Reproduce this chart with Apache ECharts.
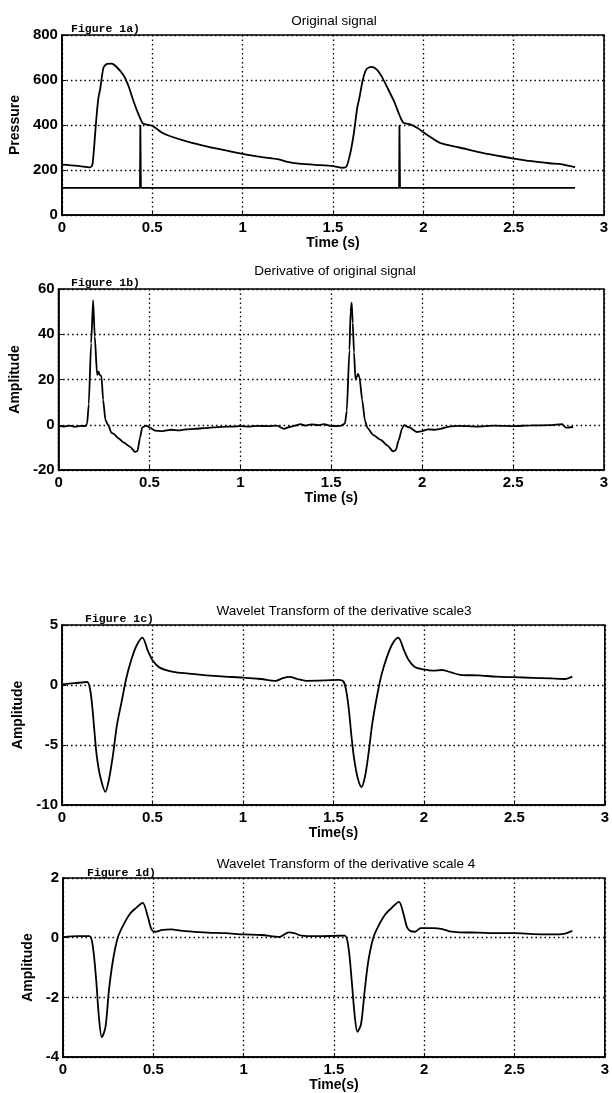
<!DOCTYPE html>
<html lang="en">
<head>
    <meta charset="UTF-8">
    <title>Figure 1</title>
    <script src="https://cdn.jsdelivr.net/npm/echarts@6/dist/echarts.min.js"></script>
    <style>
        html, body { margin: 0; padding: 0; background: #fff; }
    </style>
</head>
<body>
<div id="main" style="width:612px;height:1093px;"></div>
<script>
    // x ticks shared by all panels
    var timeTicks = [0, 0.5, 1, 1.5, 2, 2.5, 3];

    // Figure 1a) original pressure signal
    var timeA = [0, 0.05, 0.1, 0.155, 0.168, 0.176, 0.184, 0.195, 0.203, 0.212, 0.23, 0.25, 0.275, 0.3, 0.34, 0.37, 0.394, 0.42, 0.448, 0.47, 0.503, 0.55, 0.6, 0.7, 0.8, 0.9, 1.0, 1.1, 1.2, 1.25, 1.3, 1.4, 1.5, 1.555, 1.575, 1.59, 1.6, 1.615, 1.635, 1.645, 1.665, 1.685, 1.71, 1.74, 1.77, 1.8, 1.84, 1.87, 1.89, 1.93, 1.97, 2.0, 2.05, 2.1, 2.2, 2.3, 2.4, 2.5, 2.6, 2.7, 2.76, 2.8, 2.84];
    var pressure = [224, 221, 217, 212, 222, 280, 363, 470, 526, 560, 655, 672, 673, 660, 622, 570, 511, 455, 407, 402, 395, 368, 350, 325, 305, 288, 272, 258, 247, 236, 229, 223, 217, 210, 216, 255, 290, 360, 480, 515, 600, 648, 658, 648, 615, 568, 502, 440, 410, 402, 386, 368, 341, 318, 300, 281, 265, 251, 239, 230, 226, 219, 213];
    var markerTime = [0, 0.432, 0.434, 0.437, 1.866, 1.868, 1.871, 2.84];
    var markerValue = [121, 121, 400, 121, 121, 400, 121, 121];
    var pressureTicks = [0, 200, 400, 600, 800];

    // Figure 1b) derivative
    var timeB = [0, 0.03, 0.06, 0.09, 0.12, 0.148, 0.157, 0.166, 0.179, 0.19, 0.199, 0.212, 0.22, 0.226, 0.236, 0.245, 0.258, 0.275, 0.29, 0.303, 0.33, 0.357, 0.394, 0.42, 0.434, 0.448, 0.46, 0.482, 0.5, 0.53, 0.57, 0.62, 0.66, 0.7, 0.75, 0.8, 0.85, 0.9, 0.95, 1.0, 1.05, 1.1, 1.15, 1.2, 1.24, 1.27, 1.3, 1.33, 1.36, 1.39, 1.43, 1.46, 1.5, 1.55, 1.575, 1.585, 1.6, 1.606, 1.612, 1.618, 1.625, 1.633, 1.64, 1.647, 1.655, 1.67, 1.685, 1.7, 1.73, 1.77, 1.81, 1.84, 1.855, 1.87, 1.89, 1.9, 1.93, 1.97, 2.0, 2.03, 2.07, 2.1, 2.15, 2.2, 2.3, 2.4, 2.5, 2.6, 2.7, 2.77, 2.79, 2.83];
    var derivative = [-0.5, -0.8, -0.4, -0.9, -0.5, -0.6, 0.5, 9, 36, 55, 39, 22, 23.5, 22, 21.5, 11, 2, -0.5, -3.5, -4, -6, -7.8, -9.8, -12, -11.6, -5.7, -1.2, -0.4, -1.2, -2.6, -2.8, -2.2, -2.5, -2, -1.8, -1.5, -1.2, -0.9, -0.8, -0.6, -0.8, -0.5, -0.6, -0.4, -1.8, -1, -0.4, 0.3, -0.4, 0.2, -0.2, 0.3, -0.6, -0.5, 0.5, 6, 33, 50, 54, 45, 32, 20, 21, 22.5, 21, 11, 1.8, -1.5, -4.5, -6.6, -9.3, -11.8, -11.2, -7, -1.5, -0.2, -1.2, -3.2, -2.8, -2, -2.2, -1.8, -0.8, -0.5, -0.8, -0.4, -0.6, -0.3, -0.2, 0.3, -1.3, -1];
    var derivTicks = [-20, 0, 20, 40, 60];

    // Figure 1c) wavelet transform, scale 3
    var timeC = [0, 0.07, 0.139, 0.155, 0.167, 0.18, 0.192, 0.211, 0.24, 0.259, 0.281, 0.303, 0.328, 0.356, 0.383, 0.411, 0.444, 0.476, 0.503, 0.54, 0.614, 0.7, 0.8, 0.9, 1.0, 1.1, 1.18, 1.22, 1.26, 1.3, 1.35, 1.45, 1.53, 1.555, 1.57, 1.585, 1.6, 1.615, 1.635, 1.655, 1.675, 1.695, 1.715, 1.74, 1.765, 1.795, 1.825, 1.858, 1.89, 1.915, 1.95, 2.0, 2.05, 2.1, 2.15, 2.2, 2.3, 2.4, 2.5, 2.6, 2.7, 2.78, 2.82];
    var scale3 = [0.05, 0.15, 0.25, -0.35, -1.75, -4, -5.9, -7.6, -8.9, -7.9, -5.9, -3.4, -1.5, 0.6, 2.1, 3.25, 3.95, 2.8, 2.0, 1.45, 1.1, 0.95, 0.8, 0.7, 0.62, 0.5, 0.35, 0.57, 0.68, 0.5, 0.35, 0.38, 0.43, 0.3, -0.4, -2, -4.3, -6.2, -7.8, -8.5, -7.6, -5.6, -3.2, -1, 0.8, 2.3, 3.4, 3.95, 2.9, 2.1, 1.5, 1.3, 1.2, 1.25, 1.05, 0.85, 0.8, 0.7, 0.65, 0.6, 0.55, 0.5, 0.7];
    var scale3Ticks = [-10, -5, 0, 5];

    // Figure 1d) wavelet transform, scale 4
    var timeD = [0, 0.08, 0.147, 0.166, 0.184, 0.199, 0.215, 0.235, 0.254, 0.276, 0.303, 0.331, 0.368, 0.405, 0.441, 0.469, 0.49, 0.51, 0.55, 0.6, 0.65, 0.7, 0.8, 0.9, 1.0, 1.1, 1.2, 1.25, 1.28, 1.32, 1.4, 1.5, 1.56, 1.58, 1.598, 1.615, 1.63, 1.65, 1.67, 1.69, 1.718, 1.746, 1.784, 1.82, 1.86, 1.885, 1.905, 1.925, 1.95, 1.98, 2.05, 2.1, 2.15, 2.2, 2.3, 2.4, 2.5, 2.6, 2.7, 2.78, 2.82];
    var scale4 = [0.02, 0.05, 0.05, -0.33, -1.44, -2.67, -3.33, -3, -1.78, -0.78, 0, 0.39, 0.78, 1.0, 1.17, 0.72, 0.28, 0.2, 0.26, 0.28, 0.24, 0.21, 0.17, 0.15, 0.11, 0.09, 0.03, 0.18, 0.15, 0.07, 0.05, 0.06, 0.07, -0.3, -1.4, -2.6, -3.15, -2.9, -1.8, -0.8, 0, 0.39, 0.78, 1.0, 1.2, 0.8, 0.35, 0.22, 0.2, 0.32, 0.32, 0.29, 0.2, 0.18, 0.17, 0.15, 0.15, 0.12, 0.11, 0.14, 0.23];
    var scale4Ticks = [-4, -2, 0, 2];

    function pairs(xs, ys) {
        var out = [];
        for (var i = 0; i < xs.length; i++) {
            out.push([xs[i], ys[i]]);
        }
        return out;
    }

    var tickFont = {color: '#000', fontFamily: 'Liberation Sans', fontWeight: 'bold', fontSize: 15};
    var nameFont = {color: '#000', fontFamily: 'Liberation Sans', fontWeight: 'bold', fontSize: 14};
    var dotted = {color: '#000', type: [1.5, 3], width: 1.3};

    // panel boxes (px)
    var boxes = [
        {left: 54, top: 35, width: 550, height: 180},
        {left: 54, top: 289, width: 550, height: 181},
        {left: 62, top: 625, width: 544, height: 180},
        {left: 63, top: 878, width: 544, height: 181}
    ];
    var xNames = ['Time (s)', 'Time (s)', 'Time(s)', 'Time(s)'];
    var yNames = ['Pressure', 'Amplitude', 'Amplitude', 'Amplitude'];
    var yNameGaps = [30, 30, 27, 19];
    var yTicks = [pressureTicks, derivTicks, scale3Ticks, scale4Ticks];

    var grids = [], xAxes = [], yAxes = [];
    boxes.forEach(function (b, i) {
        grids.push({
            left: b.left, top: b.top, width: b.width, height: b.height,
            show: true, borderColor: '#000', borderWidth: 1.6, backgroundColor: 'transparent'
        });
        xAxes.push({
            type: 'value', gridIndex: i,
            min: timeTicks[0], max: timeTicks[timeTicks.length - 1], interval: 0.5,
            name: xNames[i], nameLocation: 'middle', nameGap: 18, nameTextStyle: nameFont,
            axisLine: {show: true, onZero: false, lineStyle: {color: '#000', width: 1.6}},
            axisTick: {show: true, inside: true, length: 4, lineStyle: {color: '#000'}},
            axisLabel: Object.assign({margin: 5}, tickFont),
            splitLine: {show: true, lineStyle: dotted}
        });
        var t = yTicks[i];
        yAxes.push({
            type: 'value', gridIndex: i,
            min: t[0], max: t[t.length - 1], interval: t[1] - t[0],
            name: yNames[i], nameLocation: 'middle', nameGap: yNameGaps[i], nameTextStyle: nameFont,
            axisLine: {show: true, onZero: false, lineStyle: {color: '#000', width: 1.6}},
            axisTick: {show: true, inside: true, length: 4, lineStyle: {color: '#000'}},
            axisLabel: Object.assign({margin: 4}, tickFont),
            splitLine: {show: true, lineStyle: dotted}
        });
    });

    var titleFont = {color: '#000', fontFamily: 'Liberation Sans', fontWeight: 'normal', fontSize: 13.5};
    var figFont = {color: '#000', fontFamily: 'Liberation Mono', fontWeight: 'bold', fontSize: 11.5};

    function lineSeries(i, data, smooth, mono) {
        var s = {
            type: 'line', xAxisIndex: i, yAxisIndex: i, data: data,
            showSymbol: false, animation: false, silent: true,
            smooth: smooth,
            lineStyle: {color: '#000', width: 1.8}
        };
        if (mono) s.smoothMonotone = 'x';
        return s;
    }

    var chart = echarts.init(document.getElementById('main'), null, {renderer: 'canvas'});
    chart.setOption({
        backgroundColor: '#fff',
        animation: false,
        title: [
            {text: 'Original signal', left: 329, top: 9, textAlign: 'center', textStyle: titleFont},
            {text: 'Derivative of original signal', left: 330, top: 259, textAlign: 'center', textStyle: titleFont},
            {text: 'Wavelet Transform of the derivative scale3', left: 339, top: 599, textAlign: 'center', textStyle: titleFont},
            {text: 'Wavelet Transform of the derivative scale 4', left: 341, top: 852, textAlign: 'center', textStyle: titleFont},
            {text: 'Figure 1a)', left: 66, top: 18, textStyle: figFont},
            {text: 'Figure 1b)', left: 66, top: 272, textStyle: figFont},
            {text: 'Figure 1c)', left: 80, top: 608, textStyle: figFont},
            {text: 'Figure 1d)', left: 82, top: 862, textStyle: figFont}
        ],
        grid: grids,
        xAxis: xAxes,
        yAxis: yAxes,
        series: [
            lineSeries(0, pairs(timeA, pressure), 0.25, false),
            lineSeries(0, pairs(markerTime, markerValue), false, false),
            lineSeries(1, pairs(timeB, derivative), 0.2, true),
            lineSeries(2, pairs(timeC, scale3), 0.3, false),
            lineSeries(3, pairs(timeD, scale4), 0.3, false)
        ]
    });
</script>
</body>
</html>
